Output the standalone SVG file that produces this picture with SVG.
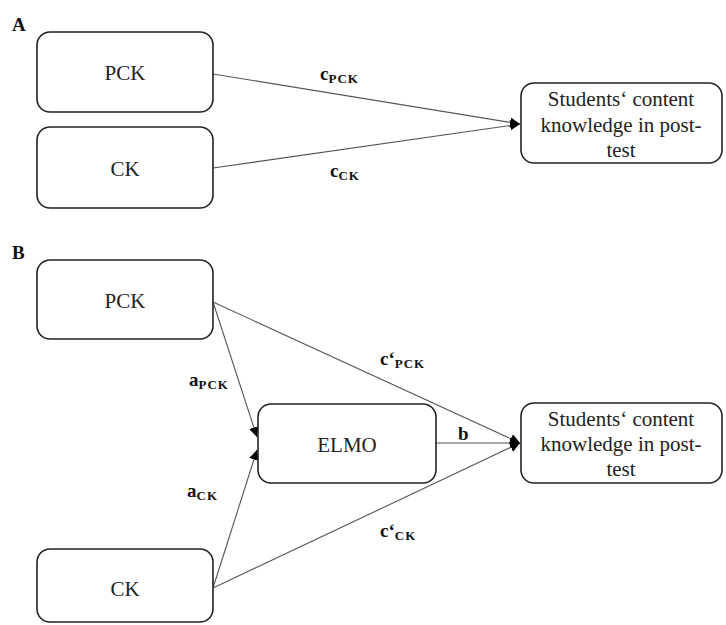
<svg xmlns="http://www.w3.org/2000/svg" width="726" height="625" viewBox="0 0 726 625">
<style>
.box{fill:#fff;stroke:#222;stroke-width:1.6}
.t{font-family:"Liberation Serif",serif;font-size:21px;fill:#222;text-anchor:middle}
.lab{font-family:"Liberation Serif",serif;font-size:19px;font-weight:bold;fill:#111}
.sub{font-size:13px;letter-spacing:1px}
.edge{stroke:#555;stroke-width:1.1;fill:none;marker-end:url(#ah)}
</style>
<defs>
<marker id="ah" markerUnits="userSpaceOnUse" markerWidth="10" markerHeight="10" viewBox="0 0 10 10" refX="10" refY="5" orient="auto">
<path d="M0,0 L10,5 L0,10 z" fill="#000"/>
</marker>
</defs>
<rect width="726" height="625" fill="#fff"/>
<text class="lab" x="12" y="31">A</text>
<text class="lab" x="12" y="259">B</text>
<g id="connectors">
<line class="edge" x1="213" y1="74" x2="520" y2="124"/>
<line class="edge" x1="213" y1="168" x2="520" y2="124"/>
<line class="edge" x1="213" y1="302" x2="257" y2="437"/>
<line class="edge" x1="213" y1="302" x2="520" y2="443"/>
<line class="edge" x1="436" y1="443" x2="520" y2="443"/>
<line class="edge" x1="213" y1="588" x2="257" y2="450"/>
<line class="edge" x1="213" y1="588" x2="520" y2="443"/>
</g>
<g id="labels">
<text class="lab" x="320" y="80">c<tspan class="sub" dy="3">PCK</tspan></text>
<text class="lab" x="330" y="177">c<tspan class="sub" dy="3">CK</tspan></text>
<text class="lab" x="189" y="386">a<tspan class="sub" dy="3">PCK</tspan></text>
<text class="lab" x="187" y="497">a<tspan class="sub" dy="3">CK</tspan></text>
<text class="lab" x="380" y="365">c‘<tspan class="sub" dy="3">PCK</tspan></text>
<text class="lab" x="380" y="537">c‘<tspan class="sub" dy="3">CK</tspan></text>
<text class="lab" x="458" y="440">b</text>
</g>
<g id="a-pck"><rect class="box" x="37" y="32" width="176" height="80" rx="13"/><text class="t" x="125" y="80">PCK</text></g>
<g id="a-ck"><rect class="box" x="37" y="127" width="176" height="81" rx="13"/><text class="t" x="125" y="176">CK</text></g>
<g id="a-students"><rect class="box" x="521" y="83" width="201" height="80" rx="13"/>
<text class="t" x="621" y="106">Students‘ content</text><text class="t" x="621" y="132">knowledge in post-</text><text class="t" x="621" y="157">test</text></g>
<g id="b-pck"><rect class="box" x="37" y="260" width="176" height="79" rx="13"/><text class="t" x="125" y="308">PCK</text></g>
<g id="b-elmo"><rect class="box" x="258" y="404" width="178" height="79" rx="13"/><text class="t" x="347" y="452">ELMO</text></g>
<g id="b-ck"><rect class="box" x="37" y="549" width="176" height="73" rx="13"/><text class="t" x="125" y="596">CK</text></g>
<g id="b-students"><rect class="box" x="521" y="403" width="201" height="80" rx="13"/>
<text class="t" x="621" y="426">Students‘ content</text><text class="t" x="621" y="451">knowledge in post-</text><text class="t" x="621" y="476">test</text></g>
</svg>
